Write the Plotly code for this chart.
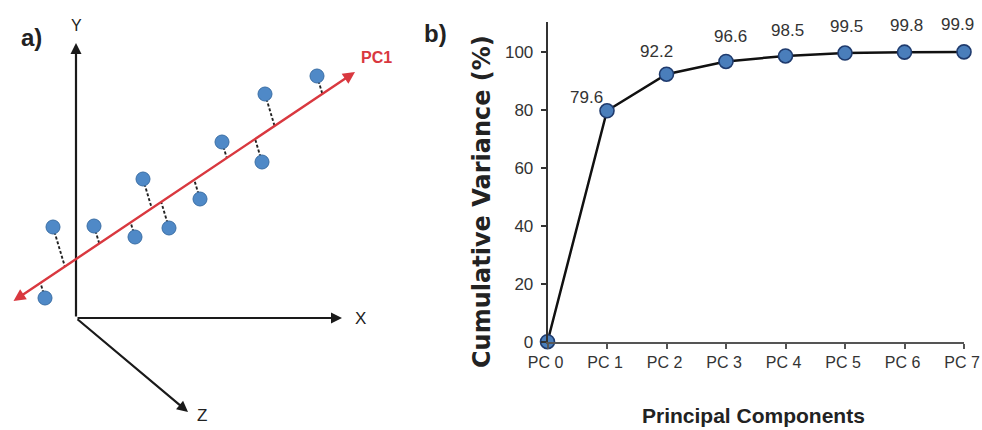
import plotly.graph_objects as go

# ---------------- Panel b data ----------------
components = ["PC 0", "PC 1", "PC 2", "PC 3", "PC 4", "PC 5", "PC 6", "PC 7"]
cum_variance = [0, 79.6, 92.2, 96.6, 98.5, 99.5, 99.8, 99.9]
value_labels = ["", "79.6", "92.2", "96.6", "98.5", "99.5", "99.8", "99.9"]
y_ticks = [0, 20, 40, 60, 80, 100]

# label offsets (style only, in pixels)
label_dx = [0, -21, -10, 4, 2, 1, 2, -7]
label_dy = [0, 13, 23, 25, 25, 27, 27, 27]

# ---------------- Panel a (schematic) data ----------------
pt_x = [45, 53, 94, 135, 143, 169, 200, 222, 262, 265, 317]
pt_y = [298, 227, 226, 237, 179, 228, 199, 142, 162, 94, 76]
pc1_start = (12, 302)
pc1_end = (355, 72)
origin = (76, 318)
y_tip = (76, 43)
x_tip = (342, 318)
z_tip = (188, 412)
proj_dir = 0.3  # dx per dy of projection strokes

W, H = 982, 430


def px(x):
    return x / W


def py(y):
    return 1 - y / H


fig = go.Figure()

# ---- panel a: projection dashes ----
slope = (pc1_end[1] - pc1_start[1]) / (pc1_end[0] - pc1_start[0])
dx_, dy_ = [], []
for x0, y0 in zip(pt_x, pt_y):
    ly = pc1_start[1] + slope * (x0 - pc1_start[0])
    s = (ly - y0) / (1 - slope * proj_dir)
    dx_ += [x0, x0 + proj_dir * s, None]
    dy_ += [y0, y0 + s, None]
fig.add_trace(go.Scatter(x=dx_, y=dy_, mode="lines", xaxis="x2", yaxis="y2",
                         line=dict(color="#222222", width=1.9, dash="3px,2px"),
                         hoverinfo="skip", showlegend=False))
fig.add_trace(go.Scatter(x=pt_x, y=pt_y, mode="markers", xaxis="x2", yaxis="y2",
                         marker=dict(size=14, color="#4f89c7",
                                     line=dict(color="#3a6ea5", width=1)),
                         showlegend=False, cliponaxis=False))

# ---- panel b: cumulative variance line ----
fig.add_trace(go.Scatter(x=components, y=cum_variance, mode="lines+markers",
                         line=dict(color="#111111", width=2.5),
                         marker=dict(size=14, color="#4a7ebb",
                                     line=dict(color="#1f3b6e", width=1.6)),
                         cliponaxis=False, showlegend=False))

annotations = []
for i, (c, v, t) in enumerate(zip(components, cum_variance, value_labels)):
    if not t:
        continue
    annotations.append(dict(x=c, y=v, xref="x", yref="y", text=t, showarrow=False,
                            xanchor="center", yanchor="middle",
                            xshift=label_dx[i], yshift=label_dy[i],
                            font=dict(family="Liberation Sans, Arial", size=17, color="#333333")))


def arrow(tip, tail, color, width, head=2, size=1.0, side="end"):
    return dict(x=tip[0], y=tip[1], ax=tail[0], ay=tail[1], xref="x2", yref="y2",
                axref="x2", ayref="y2", text="", showarrow=True, arrowhead=head,
                arrowsize=size, arrowwidth=width, arrowcolor=color, arrowside=side,
                standoff=0, startstandoff=0, startarrowhead=head, startarrowsize=size)


annotations += [
    arrow(y_tip, origin, "#1a1a1a", 2.2),
    arrow(x_tip, origin, "#1a1a1a", 2.2),
    arrow(z_tip, origin, "#1a1a1a", 2.2),
    arrow(pc1_end, pc1_start, "#d9383f", 2.4, side="end+start"),
]


def label(x, y, text, font, ref="x2", **kw):
    if ref == "paper":
        x, y = px(x), py(y)
        xr = yr = "paper"
    else:
        xr, yr = "x2", "y2"
    return dict(x=x, y=y, xref=xr, yref=yr, text=text, showarrow=False,
                xanchor="center", yanchor="middle", font=font, **kw)


dark = "#222222"
annotations += [
    label(76, 25, "Y", dict(family="Liberation Sans, Arial", size=16, color=dark)),
    label(360, 318, "X", dict(family="Liberation Sans, Arial", size=17, color=dark)),
    label(202, 415, "Z", dict(family="Liberation Sans, Arial", size=17, color=dark)),
    label(376, 57, "<b>PC1</b>", dict(family="Liberation Sans, Arial", size=16, color="#d9383f")),
    label(32, 38, "<b>a)</b>", dict(family="Liberation Sans, Arial", size=24, color=dark), ref="paper"),
    label(435, 33, "<b>b)</b>", dict(family="Liberation Sans, Arial", size=24, color=dark), ref="paper"),
    label(753, 415, "<b>Principal Components</b>",
          dict(family="Liberation Sans, Arial", size=21, color=dark), ref="paper"),
    label(482, 202, "<b>Cumulative Variance (%)</b>",
          dict(family="DejaVu Sans, Verdana, sans-serif", size=24, color=dark),
          ref="paper", textangle=-90),
]

fig.update_layout(
    width=W, height=H,
    margin=dict(l=0, r=0, t=0, b=0, autoexpand=False),
    paper_bgcolor="white", plot_bgcolor="rgba(0,0,0,0)",
    annotations=annotations,
    xaxis=dict(domain=[px(547.5), px(964)], type="category", range=[0, 7],
               showgrid=False, zeroline=False, showline=True, linecolor="#555555",
               linewidth=2, ticks="outside", ticklen=5, tickwidth=1.5, tickcolor="#555555",
               tickfont=dict(family="Liberation Sans, Arial", size=16, color="#333333"),
               ticklabelshift=-2,
               anchor="y", fixedrange=True, automargin=False),
    yaxis=dict(domain=[py(341.7), py(22)], range=[0, 110.2],
               tickvals=y_ticks, showgrid=False, zeroline=False, showline=True,
               linecolor="#333333", linewidth=1.6, ticks="outside", ticklen=5,
               tickwidth=1.5, tickcolor="#333333", ticklabelstandoff=4,
               tickfont=dict(family="Liberation Sans, Arial", size=17, color="#333333"),
               anchor="x", fixedrange=True, automargin=False),
    xaxis2=dict(domain=[0, 0.45], range=[0, 0.45 * W], visible=False,
                anchor="y2", fixedrange=True, automargin=False),
    yaxis2=dict(domain=[0, 1], range=[H, 0], visible=False, anchor="x2",
                fixedrange=True, automargin=False),
)

fig.write_html("out.html", config={"displayModeBar": False},
               post_script="document.body.style.margin='0';document.body.style.overflow='hidden';")
